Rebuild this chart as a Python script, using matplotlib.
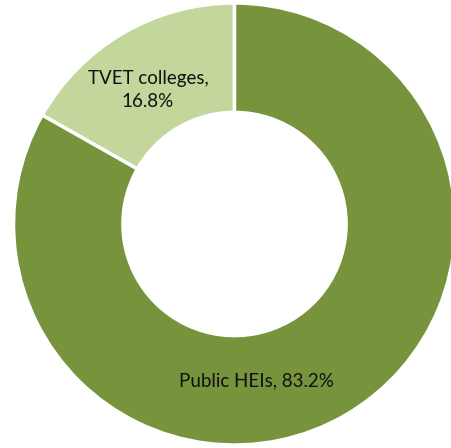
import matplotlib.pyplot as plt

categories = ['TVET colleges', 'Public HEIs']
shares = [16.8, 83.2]
colors = ['#C3D69B', '#77933C']

W, H = 452, 448
fig = plt.figure(figsize=(W / 100, H / 100), dpi=100)
ax = fig.add_axes([0, 0, 1, 1])

cx, cy, r = 234.5, H - 224, 221
ax.pie(shares, colors=colors, startangle=90, counterclock=True,
       center=(cx, cy), radius=r, frame=True,
       wedgeprops=dict(width=r * 0.495, edgecolor='white', linewidth=2.5))
ax.set_xlim(0, W)
ax.set_ylim(0, H)
ax.set_aspect('equal')
ax.axis('off')

font = dict(family='Lato', fontsize=13.5, color='#111111', ha='center', va='center')
ax.text(148, H - 90, f'{categories[0]},\n{shares[0]}%', linespacing=1.45, **font)
ax.text(256, H - 381, f'{categories[1]}, {shares[1]}%', **font)

fig.savefig('out.png', dpi=100)
